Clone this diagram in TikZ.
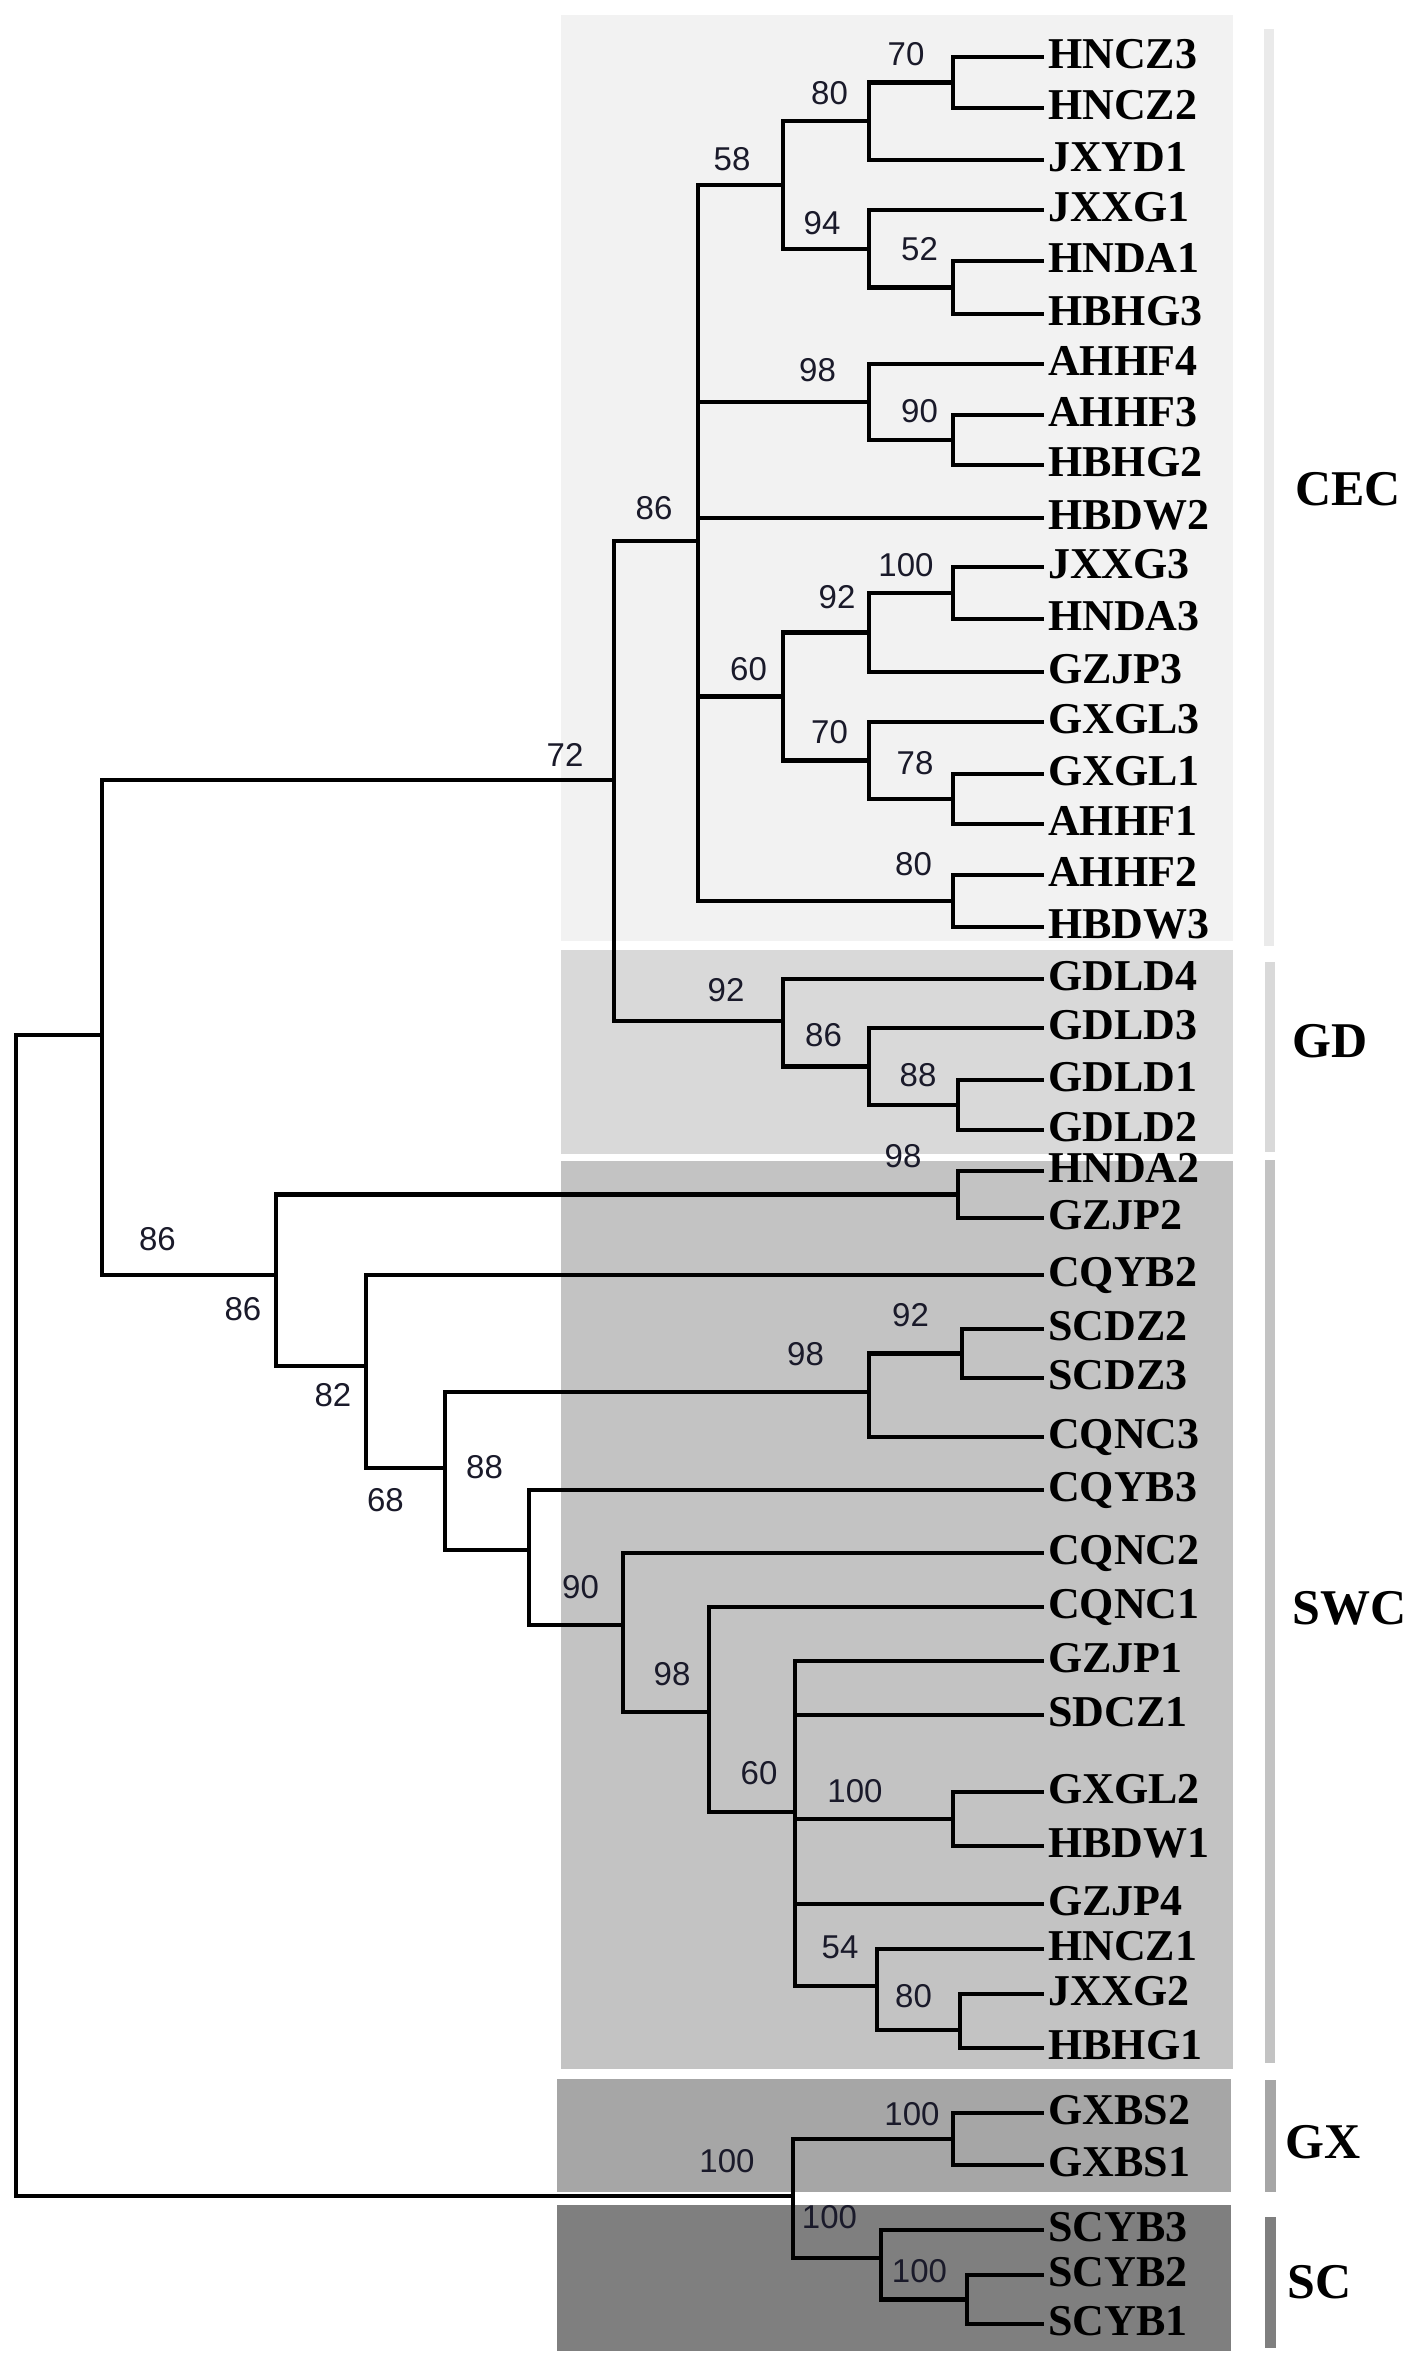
\documentclass[tikz,border=0pt]{standalone}
\usepackage{fontspec}
\setmainfont{Liberation Serif}
\newfontfamily\numfont{Liberation Sans}
\definecolor{cecbg}{HTML}{F2F2F2}
\definecolor{gdbg}{HTML}{D9D9D9}
\definecolor{swcbg}{HTML}{C3C3C3}
\definecolor{gxbg}{HTML}{A6A6A6}
\definecolor{scbg}{HTML}{7F7F7F}
\definecolor{cecbar}{HTML}{EAEAEA}
\definecolor{numcol}{HTML}{1A1A2A}
\begin{document}
\begin{tikzpicture}[x=1pt,y=-1pt,
  br/.style={line width=4.8pt, line join=miter, line cap=rect},
  leaf/.style={anchor=base west, inner sep=0pt, xshift=6pt, yshift=-11.5pt,
    font=\fontsize{44}{44}\selectfont\bfseries},
  bs/.style={inner sep=0pt, text=numcol, font=\numfont\fontsize{33}{33}\selectfont},
  grp/.style={anchor=base west, inner sep=0pt, font=\fontsize{50}{50}\selectfont\bfseries}]
\useasboundingbox (0,0) rectangle (1417,2355);
% background boxes
\fill[cecbg] (561,15) rectangle (1233,941);
\fill[gdbg] (561,950) rectangle (1233,1154);
\fill[swcbg] (561,1161) rectangle (1233,2069);
\fill[gxbg] (557,2079) rectangle (1231,2192);
\fill[scbg] (557,2205) rectangle (1231,2351);
% side bars
\fill[cecbar] (1264,29) rectangle (1274,946);
\fill[gdbg] (1265,962) rectangle (1275,1152);
\fill[swcbg] (1265,1160) rectangle (1275,2063);
\fill[gxbg] (1265,2080) rectangle (1276,2192);
\fill[scbg] (1265,2217) rectangle (1276,2348);
% group labels
\node[grp] (gCEC) at (1295,505) {CEC};
\node[grp] (gGD) at (1292,1057) {GD};
\node[grp] (gSWC) at (1292,1624) {SWC};
\node[grp] (gGX) at (1285,2158) {GX};
\node[grp] (gSC) at (1287,2298) {SC};
% leaves
\foreach \n/\y in {HNCZ3/57, HNCZ2/108, JXYD1/160, JXXG1/210, HNDA1/261, HBHG3/314,
  AHHF4/364, AHHF3/415, HBHG2/465, HBDW2/518, JXXG3/567, HNDA3/619, GZJP3/672,
  GXGL3/722, GXGL1/774, AHHF1/824, AHHF2/875, HBDW3/927, GDLD4/979, GDLD3/1028,
  GDLD1/1080, GDLD2/1130, HNDA2/1171, GZJP2/1218, CQYB2/1275, SCDZ2/1329,
  SCDZ3/1378, CQNC3/1437, CQYB3/1490, CQNC2/1553, CQNC1/1607, GZJP1/1661,
  SDCZ1/1715, GXGL2/1792, HBDW1/1846, GZJP4/1904, HNCZ1/1949, JXXG2/1994,
  HBHG1/2048, GXBS2/2113, GXBS1/2165, SCYB3/2230, SCYB2/2275, SCYB1/2324}{
  \coordinate (\n) at (1042,\y);
  \node[leaf] (l\n) at (\n) {\n};
}
% internal nodes
\coordinate (c70) at (953,82.5);
\coordinate (c80) at (869,121);
\coordinate (c52) at (953,287.5);
\coordinate (c94) at (869,249);
\coordinate (c58) at (783,185);
\coordinate (c90) at (953,440);
\coordinate (c98) at (869,402);
\coordinate (c100) at (953,593);
\coordinate (c92) at (869,632.5);
\coordinate (c78) at (953,799);
\coordinate (c70b) at (869,760.5);
\coordinate (c60) at (783,696.5);
\coordinate (c80b) at (953,901);
\coordinate (c86) at (698,541);
\coordinate (g88) at (958,1105);
\coordinate (g86) at (869,1066.5);
\coordinate (g92) at (783,1021);
\coordinate (n72) at (614,780);
\coordinate (s98a) at (958,1194.5);
\coordinate (s92) at (962,1353.5);
\coordinate (s98b) at (869,1392);
\coordinate (s100) at (953,1819);
\coordinate (s80) at (960,2030);
\coordinate (s54) at (877,1986);
\coordinate (s60) at (795,1812);
\coordinate (s98c) at (709,1712);
\coordinate (s90) at (623,1625);
\coordinate (s88) at (529,1550);
\coordinate (s68) at (445,1468);
\coordinate (s82) at (366,1366);
\coordinate (s86) at (276,1275);
\coordinate (s86o) at (102,1035);
\coordinate (x100) at (953,2139);
\coordinate (x100e) at (967,2299.5);
\coordinate (x100d) at (881,2258);
\coordinate (x100f) at (793,2196);
\coordinate (root) at (16,1600);
% branches
\draw[br] (HNCZ3) -| (c70) |- (HNCZ2);
\draw[br] (c70) -| (c80) |- (JXYD1);
\draw[br] (HNDA1) -| (c52) |- (HBHG3);
\draw[br] (JXXG1) -| (c94) |- (c52);
\draw[br] (c80) -| (c58) |- (c94);
\draw[br] (AHHF3) -| (c90) |- (HBHG2);
\draw[br] (AHHF4) -| (c98) |- (c90);
\draw[br] (JXXG3) -| (c100) |- (HNDA3);
\draw[br] (c100) -| (c92) |- (GZJP3);
\draw[br] (GXGL1) -| (c78) |- (AHHF1);
\draw[br] (GXGL3) -| (c70b) |- (c78);
\draw[br] (c92) -| (c60) |- (c70b);
\draw[br] (AHHF2) -| (c80b) |- (HBDW3);
\draw[br] (c58) -| (c86) |- (c80b);
\draw[br] (c86 |- c98) -- (c98);
\draw[br] (c86 |- HBDW2) -- (HBDW2);
\draw[br] (c86 |- c60) -- (c60);
\draw[br] (GDLD1) -| (g88) |- (GDLD2);
\draw[br] (GDLD3) -| (g86) |- (g88);
\draw[br] (GDLD4) -| (g92) |- (g86);
\draw[br] (c86) -| (n72) |- (g92);
\draw[br] (HNDA2) -| (s98a) |- (GZJP2);
\draw[br] (SCDZ2) -| (s92) |- (SCDZ3);
\draw[br] (s92) -| (s98b) |- (CQNC3);
\draw[br] (GXGL2) -| (s100) |- (HBDW1);
\draw[br] (JXXG2) -| (s80) |- (HBHG1);
\draw[br] (HNCZ1) -| (s54) |- (s80);
\draw[br] (GZJP1) -| (s60) |- (s54);
\draw[br] (s60 |- SDCZ1) -- (SDCZ1);
\draw[br] (s60 |- s100) -- (s100);
\draw[br] (s60 |- GZJP4) -- (GZJP4);
\draw[br] (CQNC1) -| (s98c) |- (s60);
\draw[br] (CQNC2) -| (s90) |- (s98c);
\draw[br] (CQYB3) -| (s88) |- (s90);
\draw[br] (s98b) -| (s68) |- (s88);
\draw[br] (CQYB2) -| (s82) |- (s68);
\draw[br] (s98a) -| (s86) |- (s82);
\draw[br] (n72) -| (s86o) |- (s86);
\draw[br] (GXBS2) -| (x100) |- (GXBS1);
\draw[br] (SCYB2) -| (x100e) |- (SCYB1);
\draw[br] (SCYB3) -| (x100d) |- (x100e);
\draw[br] (x100) -| (x100f) |- (x100d);
\draw[br] (s86o) -| (root) |- (x100f);
% bootstrap values
\node[bs] (b1) at (906,54) {70};
\node[bs] (b2) at (829.5,93) {80};
\node[bs] (b3) at (732,159) {58};
\node[bs] (b4) at (822,223.5) {94};
\node[bs] (b5) at (919.5,249) {52};
\node[bs] (b6) at (817.5,370.5) {98};
\node[bs] (b7) at (919.5,411) {90};
\node[bs] (b8) at (654,508.5) {86};
\node[bs] (b9) at (906,565.5) {100};
\node[bs] (b10) at (837,597) {92};
\node[bs] (b11) at (748.5,669) {60};
\node[bs] (b12) at (829.5,732) {70};
\node[bs] (b13) at (915,763.5) {78};
\node[bs] (b14) at (913.5,864) {80};
\node[bs] (b15) at (565,755) {72};
\node[bs] (b16) at (726,990) {92};
\node[bs] (b17) at (823.5,1035) {86};
\node[bs] (b18) at (918,1075.5) {88};
\node[bs] (b19) at (903,1156.5) {98};
\node[bs] (b20) at (157.5,1239) {86};
\node[bs] (b21) at (243,1309.5) {86};
\node[bs] (b22) at (333,1395) {82};
\node[bs] (b23) at (385.5,1500) {68};
\node[bs] (b24) at (484.5,1467) {88};
\node[bs] (b25) at (910.5,1315.5) {92};
\node[bs] (b26) at (805.5,1354.5) {98};
\node[bs] (b27) at (580.5,1587) {90};
\node[bs] (b28) at (672,1674) {98};
\node[bs] (b29) at (759,1773) {60};
\node[bs] (b30) at (855,1791) {100};
\node[bs] (b31) at (840,1947) {54};
\node[bs] (b32) at (913.5,1996.5) {80};
\node[bs] (b33) at (912,2114) {100};
\node[bs] (b34) at (727,2161) {100};
\node[bs] (b35) at (829.5,2217) {100};
\node[bs] (b36) at (919.5,2271) {100};
\end{tikzpicture}
\end{document}
